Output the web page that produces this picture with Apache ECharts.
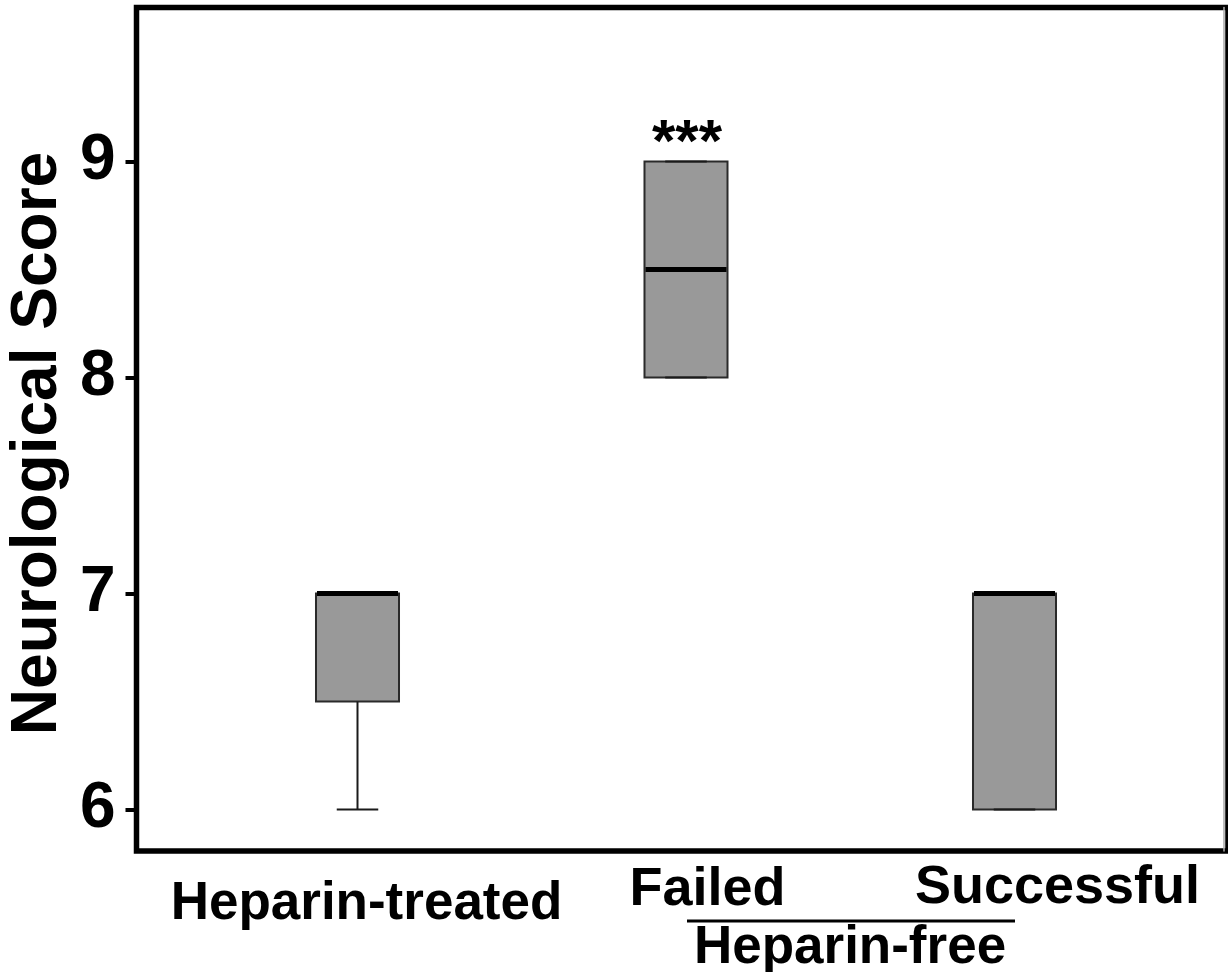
<!DOCTYPE html>
<html>
<head>
<meta charset="utf-8">
<script src="https://cdn.jsdelivr.net/npm/echarts@6/dist/echarts.min.js"></script>
<style>html,body{margin:0;padding:0;background:#fff;}#c{width:1228px;height:972px;}</style>
</head>
<body>
<div id="c"></div>
<script>
// ---- data ----
const categories = ['Heparin-treated', 'Failed', 'Successful'];
const groupLabel = 'Heparin-free';
const minVals = [6, 8, 6];
const q1Vals = [6.5, 8, 6];
const medianVals = [7, 8.5, 7];
const q3Vals = [7, 9, 7];
const maxVals = [7, 9, 7];
const significance = ['', '***', ''];
const yTicks = [6, 7, 8, 9];
const yTitle = 'Neurological Score';

const Y_MIN = 5.808, Y_MAX = 9.713;
const FONT = "'Liberation Sans', Arial, Helvetica, sans-serif";

const boxData = categories.map((c, i) => [i, minVals[i], q1Vals[i], medianVals[i], q3Vals[i], maxVals[i], significance[i]]);

function renderItem(params, api) {
  const x = api.value(0);
  const band = api.size([1, 0])[0];
  const bw = band * 0.2527;
  const half = bw / 2;
  const capHalf = bw / 4;
  const vMin = api.value(1), vQ1 = api.value(2), vMed = api.value(3), vQ3 = api.value(4), vMax = api.value(5);
  const pMin = api.coord([x, vMin]);
  const pQ1 = api.coord([x, vQ1]);
  const pMed = api.coord([x, vMed]);
  const pQ3 = api.coord([x, vQ3]);
  const pMax = api.coord([x, vMax]);
  const cx = pMed[0];
  const children = [];
  children.push({
    type: 'rect',
    shape: { x: cx - half, y: pQ3[1], width: bw, height: pQ1[1] - pQ3[1] },
    style: { fill: '#999999', stroke: '#2a2a2a', lineWidth: 2 }
  });
  // whiskers
  const wStyle = { stroke: '#1a1a1a', lineWidth: 2 };
  if (vMin < vQ1) {
    children.push({ type: 'line', shape: { x1: cx, y1: pQ1[1], x2: cx, y2: pMin[1] }, style: wStyle });
  }
  children.push({ type: 'line', shape: { x1: cx - capHalf, y1: pMin[1], x2: cx + capHalf, y2: pMin[1] }, style: wStyle });
  if (vMax > vQ3) {
    children.push({ type: 'line', shape: { x1: cx, y1: pQ3[1], x2: cx, y2: pMax[1] }, style: wStyle });
  }
  children.push({ type: 'line', shape: { x1: cx - capHalf, y1: pMax[1], x2: cx + capHalf, y2: pMax[1] }, style: wStyle });
  // median
  children.push({
    type: 'line',
    shape: { x1: cx - half + 1, y1: pMed[1], x2: cx + half - 1, y2: pMed[1] },
    style: { stroke: '#000', lineWidth: 5 }
  });
  const sig = boxData[params.dataIndex][6];
  if (sig) {
    children.push({
      type: 'text',
      style: {
        text: sig, x: cx + 1, y: pMax[1] - 17,
        align: 'center', verticalAlign: 'middle',
        font: 'bold 60px ' + FONT, fill: '#000'
      }
    });
  }
  return { type: 'group', children: children };
}

const chart = echarts.init(document.getElementById('c'), null, { renderer: 'canvas' });

const labelPos = [
  { x: 366.5, y: 904, size: 53 },
  { x: 707.5, y: 890, size: 54 },
  { x: 1057.5, y: 888, size: 54 }
];

const graphics = categories.map((c, i) => ({
  type: 'text',
  style: {
    text: c, x: labelPos[i].x, y: labelPos[i].y,
    align: 'center', verticalAlign: 'middle',
    font: 'bold ' + labelPos[i].size + 'px ' + FONT, fill: '#000'
  }
}));
graphics.push({
  type: 'line',
  shape: { x1: 687, y1: 921, x2: 1015, y2: 921 },
  style: { stroke: '#000', lineWidth: 3 }
});
graphics.push({
  type: 'text',
  style: {
    text: groupLabel, x: 850, y: 948,
    align: 'center', verticalAlign: 'middle',
    font: 'bold 53px ' + FONT, fill: '#000'
  }
});
graphics.push({
  type: 'text',
  x: 38.5, y: 443.5, rotation: Math.PI / 2,
  style: {
    text: yTitle, x: 0, y: 0,
    align: 'center', verticalAlign: 'middle',
    font: 'bold 64px ' + FONT, fill: '#000'
  }
});

chart.setOption({
  animation: false,
  backgroundColor: '#fff',
  grid: [
    { left: 136.5, top: 7.5, right: -3, bottom: 121, show: true, borderColor: '#000', borderWidth: 5.5, backgroundColor: 'transparent' },
    { left: 193.25, width: 985.5, top: 7.5, bottom: 121 }
  ],
  xAxis: [
    { gridIndex: 0, type: 'value', min: 0, max: 1, show: false },
    { gridIndex: 1, type: 'category', data: categories, boundaryGap: true, show: false }
  ],
  yAxis: [
    {
      gridIndex: 0, type: 'value', min: Y_MIN, max: Y_MAX,
      axisLine: { show: false },
      splitLine: { show: false },
      axisTick: { show: true, customValues: yTicks, length: 11, lineStyle: { color: '#000', width: 4 } },
      axisLabel: { show: true, customValues: yTicks, margin: 21, fontSize: 64, fontWeight: 'bold', fontFamily: FONT, color: '#000' }
    },
    {
      gridIndex: 0, type: 'value', min: Y_MIN, max: Y_MAX, position: 'right', offset: -4,
      axisLine: { show: true, lineStyle: { color: '#aaaaaa', width: 1.5 } },
      axisTick: { show: false }, axisLabel: { show: false }, splitLine: { show: false }
    },
    { gridIndex: 1, type: 'value', min: Y_MIN, max: Y_MAX, show: false }
  ],
  series: [{
    type: 'custom',
    xAxisIndex: 1, yAxisIndex: 2,
    renderItem: renderItem,
    encode: { x: 0, y: [1, 2, 3, 4, 5] },
    data: boxData,
    z: 3
  }],
  graphic: graphics
});
</script>
</body>
</html>
